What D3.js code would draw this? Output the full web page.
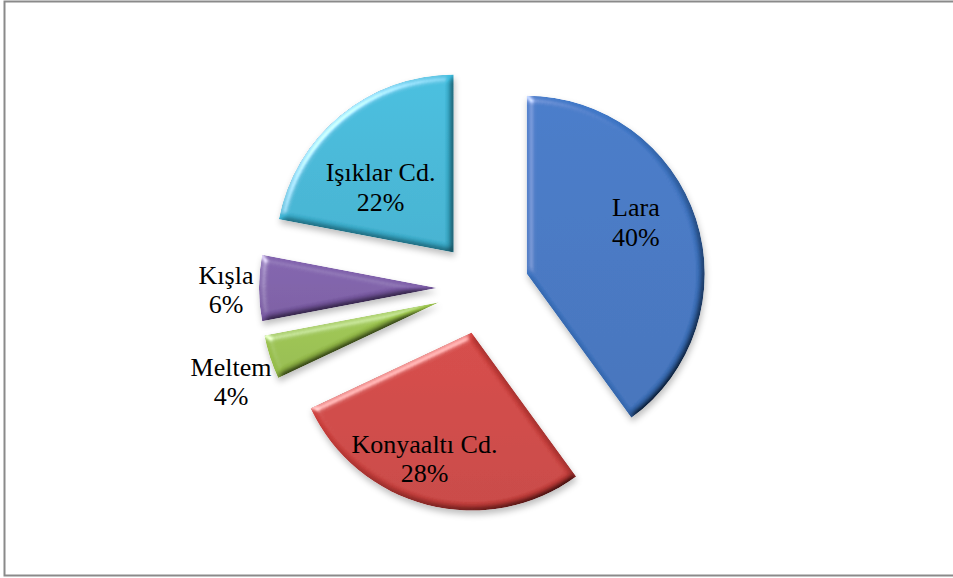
<!DOCTYPE html>
<html>
<head>
<meta charset="utf-8">
<script src="https://cdn.jsdelivr.net/npm/d3@7"></script>
<style>
    html, body { margin: 0; padding: 0; background: #fff; }
    #chart { width: 953px; height: 578px; }
    .lbl { font-family: "Liberation Serif", "Times New Roman", serif; font-size: 26px; fill: #000; }
</style>
</head>
<body>
<div id="chart"></div>
<script>

// chart data
var categories = ['Lara', 'Konyaaltı Cd.', 'Meltem', 'Kışla', 'Işıklar Cd.'];
var values = [40, 28, 4, 6, 22];
var colors = ['#3c73c0', '#cd403d', '#98c04a', '#7b5ba6', '#3cb5d5'];
var insideLabel = [true, true, false, false, true];

// label nudges (px) so labels sit where excel put them
var labelNudge = [[-6, -16], [-17, 7], [-39, 23], [-33, 0], [4, 26]];

function show_pie(div_id_chart) {

    var width = 953, height = 578;
    var cx = 483, cy = 288, radius = 178, explode = 46;

    var svg = d3.select('#' + div_id_chart).append('svg')
        .attr('width', width)
        .attr('height', height);

    var defs = svg.append('defs');

    // soft bevel + shadow filter
    var f = defs.append('filter')
        .attr('id', 'bevel')
        .attr('x', '-20%').attr('y', '-20%')
        .attr('width', '140%').attr('height', '140%');
    f.append('feGaussianBlur').attr('in', 'SourceAlpha').attr('stdDeviation', 3.5).attr('result', 'blur');

    // shading: edges facing away from the light get darker
    var diff = f.append('feDiffuseLighting')
        .attr('in', 'blur').attr('surfaceScale', 4)
        .attr('diffuseConstant', 1.414)
        .attr('lighting-color', '#ffffff').attr('result', 'diff');
    diff.append('feDistantLight').attr('azimuth', 225).attr('elevation', 45);
    f.append('feComposite').attr('in', 'SourceGraphic').attr('in2', 'diff')
        .attr('operator', 'arithmetic').attr('k1', 1).attr('k2', 0).attr('k3', 0).attr('k4', 0).attr('result', 'shaded');

    // highlight on edges facing the light
    var spec = f.append('feSpecularLighting')
        .attr('in', 'blur').attr('surfaceScale', 4)
        .attr('specularConstant', 0.7).attr('specularExponent', 22)
        .attr('lighting-color', '#ffffff').attr('result', 'spec');
    spec.append('feDistantLight').attr('azimuth', 225).attr('elevation', 30);
    f.append('feComposite').attr('in', 'spec').attr('in2', 'SourceAlpha').attr('operator', 'in').attr('result', 'specOut');
    f.append('feComposite').attr('in', 'shaded').attr('in2', 'specOut')
        .attr('operator', 'arithmetic').attr('k1', 0).attr('k2', 1).attr('k3', 0.8).attr('k4', 0).attr('result', 'lit');
    f.append('feComposite').attr('in', 'lit').attr('in2', 'SourceAlpha').attr('operator', 'in').attr('result', 'litIn');

    // drop shadow
    f.append('feGaussianBlur').attr('in', 'SourceAlpha').attr('stdDeviation', 3).attr('result', 'shBlur');
    f.append('feOffset').attr('in', 'shBlur').attr('dx', 1).attr('dy', 4).attr('result', 'shOff');
    f.append('feFlood').attr('flood-color', '#000').attr('flood-opacity', 0.25).attr('result', 'shCol');
    f.append('feComposite').attr('in', 'shCol').attr('in2', 'shOff').attr('operator', 'in').attr('result', 'shadow');
    var merge = f.append('feMerge');
    merge.append('feMergeNode').attr('in', 'shadow');
    merge.append('feMergeNode').attr('in', 'litIn');

    // gradient per slice, a touch lighter at top
    colors.forEach(function (c, i) {
        var g = defs.append('linearGradient')
            .attr('id', 'grad' + i)
            .attr('x1', 0).attr('y1', 0).attr('x2', 0).attr('y2', 1);
        g.append('stop').attr('offset', '0%').attr('stop-color', d3.color(c).brighter(0.1));
        g.append('stop').attr('offset', '100%').attr('stop-color', d3.color(c).darker(0.1));
    });

    // frame
    svg.append('rect')
        .attr('x', 4.5).attr('y', 1.5)
        .attr('width', width + 10).attr('height', 574)
        .attr('fill', 'none')
        .attr('stroke', '#8a8a8a')
        .attr('stroke-width', 2);

    var pie = d3.pie().sort(null).value(function (d) { return d; });
    var arcs = pie(values);
    var arc = d3.arc().innerRadius(0).outerRadius(radius);
    var total = d3.sum(values);
    var pct = d3.format('.0%');

    // offset of each exploded slice from the pie centre
    function shift(d) {
        var a = (d.startAngle + d.endAngle) / 2;
        return [Math.sin(a) * explode, -Math.cos(a) * explode];
    }

    var g = svg.append('g')
        .attr('transform', 'translate(' + cx + ',' + cy + ')');

    var slice = g.selectAll('.slice')
        .data(arcs)
        .enter().append('g')
        .attr('class', 'slice')
        .attr('transform', function (d) {
            var s = shift(d);
            return 'translate(' + s[0] + ',' + s[1] + ')';
        });

    slice.append('path')
        .attr('d', arc)
        .attr('fill', function (d, i) { return 'url(#grad' + i + ')'; })
        .attr('filter', 'url(#bevel)');

    // labels: inside ones near the centroid, small slices just outside
    var inArc = d3.arc().innerRadius(radius * 0.68).outerRadius(radius * 0.68);
    var lbl = slice.append('text')
        .attr('class', 'lbl')
        .attr('text-anchor', 'middle')
        .attr('transform', function (d, i) {
            var p, a = (d.startAngle + d.endAngle) / 2;
            if (insideLabel[i]) {
                p = inArc.centroid(d);
            } else {
                p = [Math.sin(a) * radius, -Math.cos(a) * radius];
            }
            return 'translate(' + (p[0] + labelNudge[i][0]) + ',' + (p[1] + labelNudge[i][1]) + ')';
        });

    lbl.append('tspan')
        .attr('x', 0)
        .attr('dy', '-0.15em')
        .text(function (d, i) { return categories[i]; });

    lbl.append('tspan')
        .attr('x', 0)
        .attr('dy', '1.12em')
        .text(function (d) { return pct(d.data / total); });
}

show_pie('chart');
</script>
</body>
</html>
